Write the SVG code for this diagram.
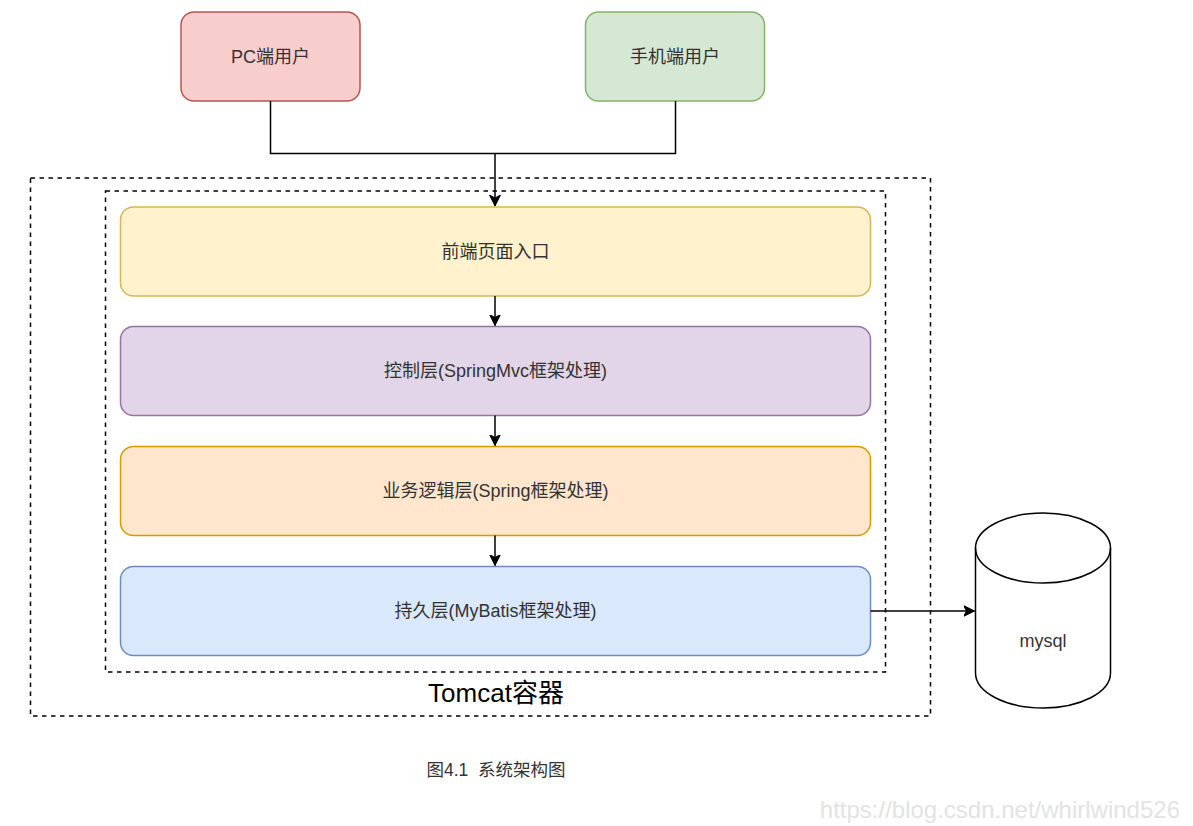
<svg xmlns="http://www.w3.org/2000/svg" width="1193" height="826" viewBox="0 0 1193 826">
  <defs>
    <marker id="arrow" viewBox="0 0 12 12" refX="11" refY="6" markerWidth="12" markerHeight="12" markerUnits="userSpaceOnUse" orient="auto">
      <path d="M0,0.5 L11,6 L0,11.5 L3,6 Z" fill="#000" stroke="#000" stroke-width="1"/>
    </marker>
    <style>
      .lbl { font-family: "Liberation Sans", Arial, "Noto Sans CJK SC", sans-serif; font-size: 18px; fill: #333; text-anchor: middle; dominant-baseline: central; }
      .box { stroke-width: 1.5; }
      .dash { fill: none; stroke: #000; stroke-width: 1.5; stroke-dasharray: 4.5 4.5; }
      .edge { fill: none; stroke: #000; stroke-width: 1.5; }
    </style>
  </defs>
  <rect width="1193" height="826" fill="#fff"/>

  <g id="tomcat-container">
    <rect class="dash" x="30.5" y="178" width="900" height="538"/>
    <text class="lbl" x="496" y="693" style="font-size:26px;fill:#000">Tomcat容器</text>
  </g>
  <g id="inner-container">
    <rect class="dash" x="105.5" y="191" width="780" height="481"/>
  </g>

  <g id="pc-user">
    <rect class="box" x="181" y="12" width="179" height="89" rx="13" fill="#f8cecc" stroke="#b85450"/>
    <text class="lbl" x="270.5" y="56.5">PC端用户</text>
  </g>
  <g id="mobile-user">
    <rect class="box" x="585.5" y="12" width="179" height="89" rx="13" fill="#d5e8d4" stroke="#82b366"/>
    <text class="lbl" x="675" y="56.5">手机端用户</text>
  </g>

  <g id="frontend">
    <rect class="box" x="120.5" y="207" width="750" height="89" rx="13" fill="#fff2cc" stroke="#d6b656"/>
    <text class="lbl" x="495.5" y="251.5">前端页面入口</text>
  </g>
  <g id="controller">
    <rect class="box" x="120.5" y="326.5" width="750" height="89" rx="13" fill="#e1d5e7" stroke="#9673a6"/>
    <text class="lbl" x="495.5" y="371">控制层(SpringMvc框架处理)</text>
  </g>
  <g id="service">
    <rect class="box" x="120.5" y="446.5" width="750" height="89" rx="13" fill="#ffe6cc" stroke="#d79b00"/>
    <text class="lbl" x="495.5" y="491">业务逻辑层(Spring框架处理)</text>
  </g>
  <g id="persistence">
    <rect class="box" x="120.5" y="566.5" width="750" height="89" rx="13" fill="#dae8fc" stroke="#6c8ebf"/>
    <text class="lbl" x="495.5" y="611">持久层(MyBatis框架处理)</text>
  </g>

  <g id="mysql">
    <path d="M975.5,548 A67.5,35 0 0 1 1110.5,548 V673 A67.5,35 0 0 1 975.5,673 Z" fill="#fff" stroke="#000" stroke-width="1.5"/>
    <path d="M975.5,548 A67.5,35 0 0 0 1110.5,548" fill="none" stroke="#000" stroke-width="1.5"/>
    <text class="lbl" x="1043" y="641">mysql</text>
  </g>

  <g id="connectors">
    <path class="edge" d="M270.5,101 V153.5 H675.5 V101"/>
    <path class="edge" d="M495,153.5 V206" marker-end="url(#arrow)"/>
    <path class="edge" d="M495,296 V325.5" marker-end="url(#arrow)"/>
    <path class="edge" d="M495,415.5 V445.5" marker-end="url(#arrow)"/>
    <path class="edge" d="M495,535.5 V565.5" marker-end="url(#arrow)"/>
    <path class="edge" d="M870.5,611 H974.5" marker-end="url(#arrow)"/>
  </g>

  <g id="caption">
    <text class="lbl" x="496" y="770" xml:space="preserve" style="font-size:17.5px;white-space:pre">图4.1  系统架构图</text>
  </g>
  <g id="watermark">
    <text x="1180" y="818" style="font-family:'Liberation Sans',Arial,sans-serif;font-size:24px;fill:#e3e3e3;text-anchor:end">https://blog.csdn.net/whirlwind526</text>
  </g>
</svg>
